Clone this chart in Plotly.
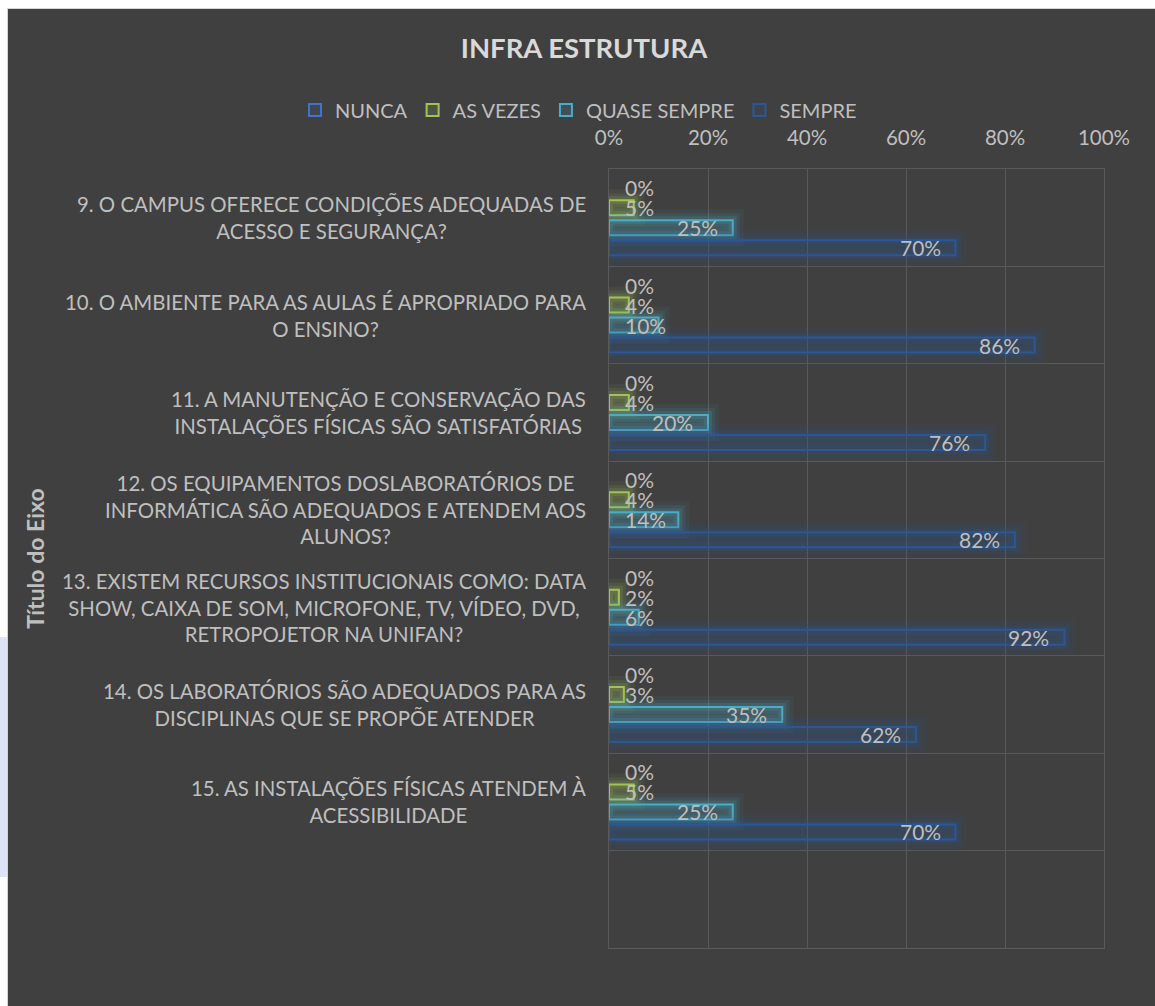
import plotly.graph_objects as go

# ---- data -------------------------------------------------------------
questions = [
    "9. O CAMPUS OFERECE CONDIÇÕES ADEQUADAS DE<br>ACESSO E SEGURANÇA?",
    "10. O AMBIENTE PARA AS AULAS É APROPRIADO PARA<br>O ENSINO?",
    "11. A MANUTENÇÃO E CONSERVAÇÃO DAS<br>INSTALAÇÕES FÍSICAS SÃO SATISFATÓRIAS",
    "12. OS EQUIPAMENTOS DOSLABORATÓRIOS DE<br>INFORMÁTICA SÃO ADEQUADOS E ATENDEM AOS<br>ALUNOS?",
    "13. EXISTEM RECURSOS INSTITUCIONAIS COMO: DATA<br>SHOW, CAIXA DE SOM, MICROFONE, TV, VÍDEO, DVD,<br>RETROPOJETOR NA UNIFAN?",
    "14. OS LABORATÓRIOS SÃO ADEQUADOS PARA AS<br>DISCIPLINAS QUE SE PROPÕE ATENDER",
    "15. AS INSTALAÇÕES FÍSICAS ATENDEM À<br>ACESSIBILIDADE",
]
series_names = ["NUNCA", "AS VEZES", "QUASE SEMPRE", "SEMPRE"]
nunca = [0, 0, 0, 0, 0, 0, 0]
as_vezes = [5, 4, 4, 4, 2, 3, 5]
quase_sempre = [25, 10, 20, 14, 6, 35, 25]
sempre = [70, 86, 76, 82, 92, 62, 70]
x_ticks = [0, 20, 40, 60, 80, 100]

# ---- style ------------------------------------------------------------
colors = ["#4472C4", "#A2C257", "#4BACC6", "#2B5797"]
BG = "#404040"
GRID = "#595959"
TXT = "#BFBFBF"
FONT = "Lato"

W, H = 1155, 1006
PL, PR, PT, PB = 609, 1104, 169, 948      # plot-area edges in pixels
n_bands = len(questions) + 1               # one empty band at the bottom
pitch = 0.2054                             # distance between bars in a group
bar_w = 0.154                              # bar thickness


def rgba(hex_color, a):
    h = hex_color.lstrip("#")
    r, g, b = int(h[0:2], 16), int(h[2:4], 16), int(h[4:6], 16)
    return f"rgba({r},{g},{b},{a})"


def px_to_paper(px, py):
    return (px - PL) / (PR - PL), (PB - py) / (PB - PT)


pos = list(range(len(questions)))
all_values = [nunca, as_vezes, quase_sempre, sempre]

fig = go.Figure()

for k, (name, vals, col) in enumerate(zip(series_names, all_values, colors)):
    centre_off = (k - 1.5) * pitch
    off = centre_off - bar_w / 2
    has_length = any(v > 0 for v in vals)
    # soft glow around each bar
    if has_length:
        for lw, a in ((22, 0.07), (14, 0.10), (8, 0.16)):
            fig.add_trace(go.Bar(
                x=vals, y=pos, orientation="h", offset=off, width=bar_w,
                marker=dict(color="rgba(0,0,0,0)", line=dict(color=rgba(col, a), width=lw)),
                showlegend=False, hoverinfo="skip",
            ))
    style = dict(color=rgba(col, 0.15), line=dict(color=col, width=2))
    if has_length:
        fig.add_trace(go.Bar(x=vals, y=pos, orientation="h", offset=off,
                             width=bar_w, name=name, marker=style))
    else:
        # zero-length series: no outline stub on the axis, legend key kept
        fig.add_trace(go.Bar(x=vals, y=pos, orientation="h", offset=off, width=bar_w,
                             name=name, showlegend=False,
                             marker=dict(color=rgba(col, 0.15), line=dict(width=0))))
        fig.add_trace(go.Bar(x=[None], y=[None], orientation="h", name=name,
                             marker=style, hoverinfo="skip"))
    # value labels: inside the bar end when they fit, else next to the axis
    for i, v in enumerate(vals):
        fits = v >= 15
        fig.add_annotation(
            x=v if fits else 0, y=i + centre_off, xref="x", yref="y",
            text=f"{v}%", showarrow=False,
            xanchor="right" if fits else "left",
            xshift=-13 if fits else 14,
            font=dict(family=FONT, size=21, color=TXT),
        )

# category labels: wrapped lines centred on each other, block set against the axis
for i, q in enumerate(questions):
    fig.add_annotation(
        x=0, y=i, xref="paper", yref="y", text=q, showarrow=False,
        xanchor="right", yanchor="middle", align="center", xshift=-21,
        font=dict(family=FONT, size=20.4, color=TXT),
    )

# chart frame on the page
x0, y0 = px_to_paper(7.5, 8.5)
x1, y1 = px_to_paper(1200, 1060)
fig.add_shape(type="rect", xref="paper", yref="paper", x0=x0, y0=y1, x1=x1, y1=y0,
              fillcolor=BG, line=dict(color="#D4D4D4", width=1), layer="below")
sx0, sy0 = px_to_paper(0, 637)
sx1, sy1 = px_to_paper(7, 877)
fig.add_shape(type="rect", xref="paper", yref="paper", x0=sx0, y0=sy1, x1=sx1, y1=sy0,
              fillcolor="#DCE4F6", line=dict(width=0), layer="below")

leg_x, leg_y = px_to_paper(295, 110)

fig.update_layout(
    width=W, height=H,
    margin=dict(l=PL, r=W - PR, t=PT, b=H - PB),
    paper_bgcolor="#FFFFFF",
    plot_bgcolor="rgba(0,0,0,0)",
    barmode="overlay",
    font=dict(family=FONT, color=TXT, size=20.4),
    title=dict(text="<b>INFRA ESTRUTURA</b>", xref="container", x=584 / W,
               yref="container", y=1 - 48.5 / H, xanchor="center", yanchor="middle",
               font=dict(family=FONT, size=27.5, color="#D9D9D9")),
    legend=dict(orientation="h", xref="paper", yref="paper",
                x=leg_x, y=leg_y, xanchor="left", yanchor="middle",
                bgcolor="rgba(0,0,0,0)", font=dict(family=FONT, size=20, color=TXT),
                traceorder="normal"),
    showlegend=True,
    xaxis=dict(side="top", range=[0, 100], tickvals=x_ticks,
               ticktext=[f"{t}%" for t in x_ticks],
               showgrid=True, gridcolor=GRID, gridwidth=1, zeroline=False,
               showline=True, mirror=True, linecolor=GRID, linewidth=1,
               ticks="", ticklabelstandoff=15,
               tickfont=dict(family=FONT, size=20.5, color=TXT), fixedrange=True),
    yaxis=dict(range=[n_bands - 0.5, -0.5], tickvals=pos, showticklabels=False,
               showgrid=False, zeroline=False,
               showline=True, mirror=True, linecolor=GRID, linewidth=1,
               ticks="",
               minor=dict(tick0=-0.5, dtick=1, showgrid=True, gridcolor=GRID, gridwidth=1),
               title=dict(text="<b>Título do Eixo</b>", standoff=556,
                          font=dict(family=FONT, size=23, color=TXT)),
               fixedrange=True),
)

fig.write_html("out.html")
